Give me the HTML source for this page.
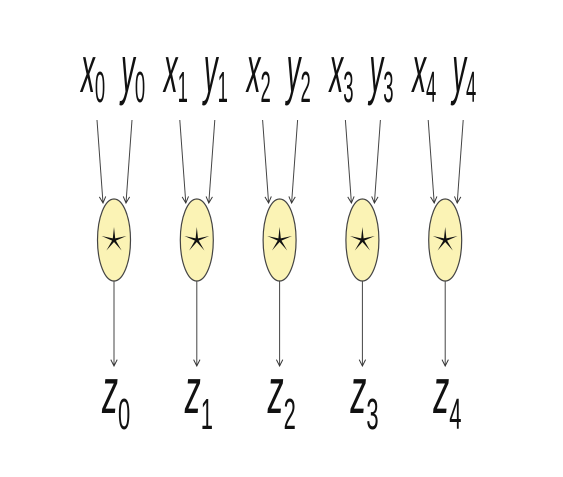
<!DOCTYPE html>
<html><head><meta charset="utf-8"><style>
html,body{margin:0;padding:0;background:#fff;width:563px;height:477px;overflow:hidden}
text{font-family:"Liberation Sans",sans-serif;fill:#111}
</style></head><body>
<svg id="d" width="563" height="477" viewBox="0 0 563 477" xmlns="http://www.w3.org/2000/svg">
<defs>
<marker id="ah" viewBox="0 0 10 10" refX="9" refY="5" markerWidth="8" markerHeight="8" orient="auto" markerUnits="userSpaceOnUse">
<path d="M1,1 L9,5 L1,9" fill="none" stroke="#333" stroke-width="1.2"/>
</marker>
</defs>
</svg>
<script>
const indices=[0,1,2,3,4];
const svg=document.getElementById('d');
const NS='http://www.w3.org/2000/svg';
function mk(t,a){const e=document.createElementNS(NS,t);for(const k in a)e.setAttribute(k,a[k]);svg.appendChild(e);return e;}
function label(letter,sub,x,y,fs,sfs,sc,dy){
  const t=mk('text',{transform:`translate(${x},${y}) scale(${sc},1)`,'font-size':fs,'font-style':'italic'});
  t.appendChild(document.createTextNode(letter));
  const s=document.createElementNS(NS,'tspan');
  s.setAttribute('font-size',sfs);s.setAttribute('dy',dy);s.setAttribute('font-style','normal');s.textContent=sub;
  t.appendChild(s);return t;
}
indices.forEach(i=>{
  const cx=114+82.8*i, cy=240;
  let e=label('x',i,cx-33,92,66,44,0.42,10);
  
  
  e=label('y',i,cx+7,92,66,44,0.42,10);
  
  
  e=mk('line',{x1:cx-17,y1:120,x2:cx-11,y2:203,stroke:'#444','stroke-width':1,'marker-end':'url(#ah)'});
  
  
  e=mk('line',{x1:cx+18,y1:120,x2:cx+12,y2:203,stroke:'#444','stroke-width':1,'marker-end':'url(#ah)'});
  
  
  e=mk('ellipse',{cx:cx,cy:cy,rx:16.5,ry:41,fill:'#fbf3b5',stroke:'#444','stroke-width':1.2});
  
  
  const pts=[];for(let k=0;k<10;k++){const r=k%2?2:13,a=-Math.PI/2+k*Math.PI/5;pts.push((cx+r*Math.cos(a)).toFixed(1)+','+(cy+r*Math.sin(a)).toFixed(1));}
  e=mk('polygon',{points:pts.join(' '),fill:'#111'});
  
  
  e=mk('line',{x1:cx,y1:281,x2:cx,y2:366,stroke:'#444','stroke-width':1,'marker-end':'url(#ah)'});
  
  
  e=label('z',i,cx-12,413,64,44,0.5,16);
  
  
});
</script>
</body></html>
